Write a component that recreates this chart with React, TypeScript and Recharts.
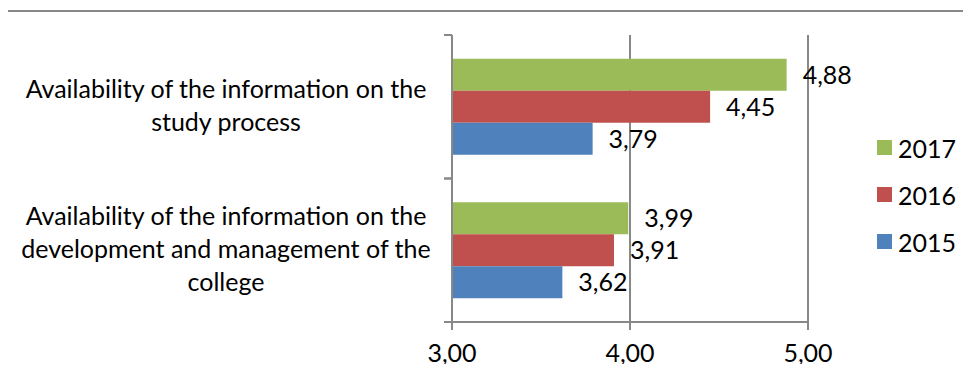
import { BarChart, Bar, XAxis, YAxis, CartesianGrid, Legend, LabelList } from 'recharts';

const categories = [
  ['Availability of the information on the', 'study process'],
  ['Availability of the information on the', 'development and management of the', 'college'],
];
const values2017 = [4.88, 3.99];
const values2016 = [4.45, 3.91];
const values2015 = [3.79, 3.62];
const xTicks = [3, 4, 5];

const data = categories.map((lines, i) => ({
  name: lines.join(' '),
  lines,
  y2017: values2017[i],
  y2016: values2016[i],
  y2015: values2015[i],
}));

const W = 971;
const H = 372;
const X_AXIS_H = 30;
const M = { top: 35, right: 3, bottom: 20, left: 12 };
const FONT = 'Lato, "Open Sans", sans-serif';
const FS = 25;
const AXIS = '#888888';
const bandHalf = (H - M.top - M.bottom - X_AXIS_H) / categories.length / 2;

const fmt = (v: any) => Number(v).toFixed(2).replace('.', ',');

function CategoryTick(props: any) {
  const { x, y, payload } = props;
  const lines: string[] = data[payload.index]?.lines ?? [String(payload.value)];
  const lh = 33;
  const start = y - ((lines.length - 1) * lh) / 2;
  return (
    <g>
      <line x1={x - 8} x2={x} y1={y - bandHalf} y2={y - bandHalf} stroke={AXIS} strokeWidth={2} />
      <line x1={x - 8} x2={x} y1={y + bandHalf} y2={y + bandHalf} stroke={AXIS} strokeWidth={2} />
      {lines.map((l, i) => (
        <text key={i} x={x - 226} y={start + i * lh} dy={8} textAnchor="middle" fontSize={FS} fill="#000" fontFamily={FONT}>
          {l}
        </text>
      ))}
    </g>
  );
}

const legendItems = [
  { label: '2017', color: '#9BBB59' },
  { label: '2016', color: '#C0504D' },
  { label: '2015', color: '#4F81BD' },
];

function LegendBox() {
  return (
    <div style={{ paddingLeft: 69, fontFamily: FONT, fontSize: FS, color: '#000' }}>
      {legendItems.map((it) => (
        <div key={it.label} style={{ display: 'flex', alignItems: 'center', height: 47 }}>
          <span style={{ width: 15, height: 15, background: it.color, marginRight: 6, flexShrink: 0, display: 'inline-block' }} />
          {it.label}
        </div>
      ))}
    </div>
  );
}

const labelStyle = { fill: '#000', fontSize: FS, fontFamily: FONT };

export default function App() {
  return (
    <div style={{ position: 'relative', width: W, height: H, margin: -8, background: '#fff', overflow: 'hidden' }}>
      <div style={{ position: 'absolute', left: 4, top: 10, width: W, height: H, borderTop: `2px solid ${AXIS}`, borderLeft: `2px solid ${AXIS}` }} />
      <BarChart width={W} height={H} data={data} layout="vertical" margin={M} barCategoryGap="16.5%" barGap={0}>
        <CartesianGrid horizontal={false} stroke={AXIS} strokeWidth={2} />
        <XAxis
          type="number"
          domain={[3, 5]}
          ticks={xTicks}
          tickFormatter={fmt}
          height={X_AXIS_H}
          stroke={AXIS}
          strokeWidth={2}
          tickSize={8}
          tickMargin={14}
          tick={{ fill: '#000', fontSize: FS, fontFamily: FONT }}
          allowDataOverflow
        />
        <YAxis
          type="category"
          dataKey="name"
          width={440}
          stroke={AXIS}
          strokeWidth={2}
          tickLine={false}
          tickSize={0}
          tickMargin={0}
          tick={<CategoryTick />}
          interval={0}
        />
        <Legend
          layout="vertical"
          align="right"
          verticalAlign="top"
          wrapperStyle={{ width: 160, top: 124 }}
          content={<LegendBox />}
        />
        <Bar dataKey="y2017" fill="#9BBB59" isAnimationActive={false}>
          <LabelList dataKey="y2017" position="right" offset={16} formatter={fmt} style={labelStyle} />
        </Bar>
        <Bar dataKey="y2016" fill="#C0504D" isAnimationActive={false}>
          <LabelList dataKey="y2016" position="right" offset={16} formatter={fmt} style={labelStyle} />
        </Bar>
        <Bar dataKey="y2015" fill="#4F81BD" isAnimationActive={false}>
          <LabelList dataKey="y2015" position="right" offset={16} formatter={fmt} style={labelStyle} />
        </Bar>
      </BarChart>
    </div>
  );
}
